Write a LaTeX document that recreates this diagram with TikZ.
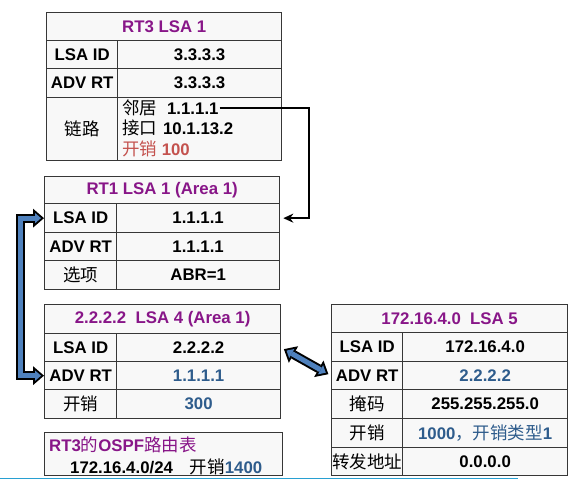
\documentclass[tikz,border=0pt]{standalone}
\usepackage{fontspec}
\setmainfont{Liberation Sans}
\newfontfamily\cjk[Scale=1.04]{Noto Sans CJK SC}
\usetikzlibrary{arrows.meta, positioning, calc}
\definecolor{lsapurple}{RGB}{136,22,136}
\definecolor{valblue}{RGB}{46,92,140}
\definecolor{costred}{RGB}{196,82,78}
\definecolor{arrowblue}{RGB}{79,129,189}
\definecolor{cellgray}{RGB}{248,248,248}
\definecolor{gridgray}{RGB}{55,55,55}
\definecolor{edgecyan}{RGB}{40,160,210}
\newcommand{\zh}[1]{{\cjk\mdseries #1}}

\tikzset{
  cell/.style={draw=gridgray, fill=cellgray, line width=1.3pt, inner sep=0pt,
    anchor=north west, font=\fontsize{16.8}{19}\selectfont\bfseries},
  hdrcell/.style={cell, text=lsapurple},
  txt/.style={inner sep=1pt, font=\fontsize{16.8}{19}\selectfont\bfseries},
  link/.style={line width=1.8pt, -{Stealth[length=10pt, width=9pt]}},
  fatout/.style={line width=9pt, black, line join=miter,
    {Triangle[length=11pt, width=19pt, line width=0pt]}-{Triangle[length=11pt, width=19pt, line width=0pt]}},
  fatin/.style={line width=5pt, arrowblue, line join=miter, shorten <=3pt, shorten >=3pt,
    {Triangle[length=6pt, width=10.5pt, line width=0pt]}-{Triangle[length=6pt, width=10.5pt, line width=0pt]}}
}

\begin{document}
\begin{tikzpicture}[x=1pt, y=-1pt]
\useasboundingbox (0,0) rectangle (573,480);

% RT3 LSA 1
\node[hdrcell, minimum width=235pt, minimum height=28pt] (t1h) at (46,12) {RT3 LSA 1};
\foreach \i/\y/\h/\k/\v in {1/40/28/LSA ID/3.3.3.3, 2/68/29/ADV RT/3.3.3.3} {
  \node[cell, minimum width=71pt, minimum height=\h pt] (t1k\i) at (46,\y) {\k};
  \node[cell, minimum width=164pt, minimum height=\h pt] (t1v\i) at (117,\y) {\v};
}
\node[cell, minimum width=71pt, minimum height=63pt] (t1k3) at (46,97) {\zh{链路}};
\node[cell, minimum width=164pt, minimum height=63pt] (t1v3) at (117,97) {};
\node[txt, anchor=west] (nbr) at ($(t1v3.north west)+(4,11)$) {\zh{邻居}\hspace{10pt}1.1.1.1};
\node[txt, anchor=west] (intf) at ($(t1v3.north west)+(4,31)$) {\zh{接口}\hspace{6pt}10.1.13.2};
\node[txt, anchor=west, text=costred] (cost1) at ($(t1v3.north west)+(4,52)$) {\zh{开销} 100};

% RT1 LSA 1
\node[hdrcell, minimum width=235pt, minimum height=27pt] (t2h) at (44,176) {RT1 LSA 1 (Area 1)};
\foreach \i/\y/\h/\k/\v in {1/203/29/LSA ID/1.1.1.1, 2/232/28/ADV RT/1.1.1.1,
                            3/260/29/\zh{选项}/ABR=1} {
  \node[cell, minimum width=72pt, minimum height=\h pt] (t2k\i) at (44,\y) {\k};
  \node[cell, minimum width=163pt, minimum height=\h pt] (t2v\i) at (116,\y) {\v};
}

% LSA 4
\node[hdrcell, minimum width=236pt, minimum height=29pt] (t3h) at (44,304) {2.2.2.2\ \ LSA 4 (Area 1)};
\foreach \i/\y/\h/\k/\v in {1/333/28/LSA ID/2.2.2.2, 2/361/28/ADV RT/\textcolor{valblue}{1.1.1.1},
                            3/389/29/\zh{开销}/\textcolor{valblue}{300}} {
  \node[cell, minimum width=72pt, minimum height=\h pt] (t3k\i) at (44,\y) {\k};
  \node[cell, minimum width=164pt, minimum height=\h pt] (t3v\i) at (116,\y) {\v};
}

% routing table of RT3
\node[cell, minimum width=238pt, minimum height=43pt] (rtab) at (44,432) {};
\node[txt, anchor=west, text=lsapurple] (rtitle) at ($(rtab.north west)+(4,13)$) {RT3\zh{的}OSPF\zh{路由表}};
\node[txt, anchor=west] (rroute) at ($(rtab.north west)+(25,35)$)
  {172.16.4.0/24\hspace{17pt}\zh{开销}\textcolor{valblue}{1400}};

% LSA 5
\node[hdrcell, minimum width=236pt, minimum height=28pt] (t5h) at (331,304) {172.16.4.0\ \ LSA 5};
\foreach \i/\y/\h/\k/\v in {1/332/29/LSA ID/172.16.4.0, 2/361/28/ADV RT/\textcolor{valblue}{2.2.2.2},
                            3/389/29/\zh{掩码}/255.255.255.0,
                            4/418/29/\zh{开销}/{\color{valblue}1000\zh{，开销类型}1},
                            5/447/28/\zh{转发地址}/0.0.0.0} {
  \node[cell, minimum width=71pt, minimum height=\h pt] (t5k\i) at (331,\y) {\k};
  \node[cell, minimum width=165pt, minimum height=\h pt] (t5v\i) at (402,\y) {\v};
}

% connectors
\draw[link] (nbr.east) -| ([xshift=29pt]t2v1.east) -- ([xshift=3pt]t2v1.east);

\draw[fatout] (t2k1.west) -- ++(-24,0) |- (t3k2.west);
\draw[fatin] (t2k1.west) -- ++(-24,0) |- (t3k2.west);

\draw[fatout, shorten <=3pt, shorten >=3pt] (t3v1.east) -- (t5k2.west);
\draw[fatin, shorten <=6pt, shorten >=6pt] (t3v1.east) -- (t5k2.west);

\draw[edgecyan, line width=1.5pt] (0,478.5) -- (518,478.5);

\end{tikzpicture}
\end{document}
